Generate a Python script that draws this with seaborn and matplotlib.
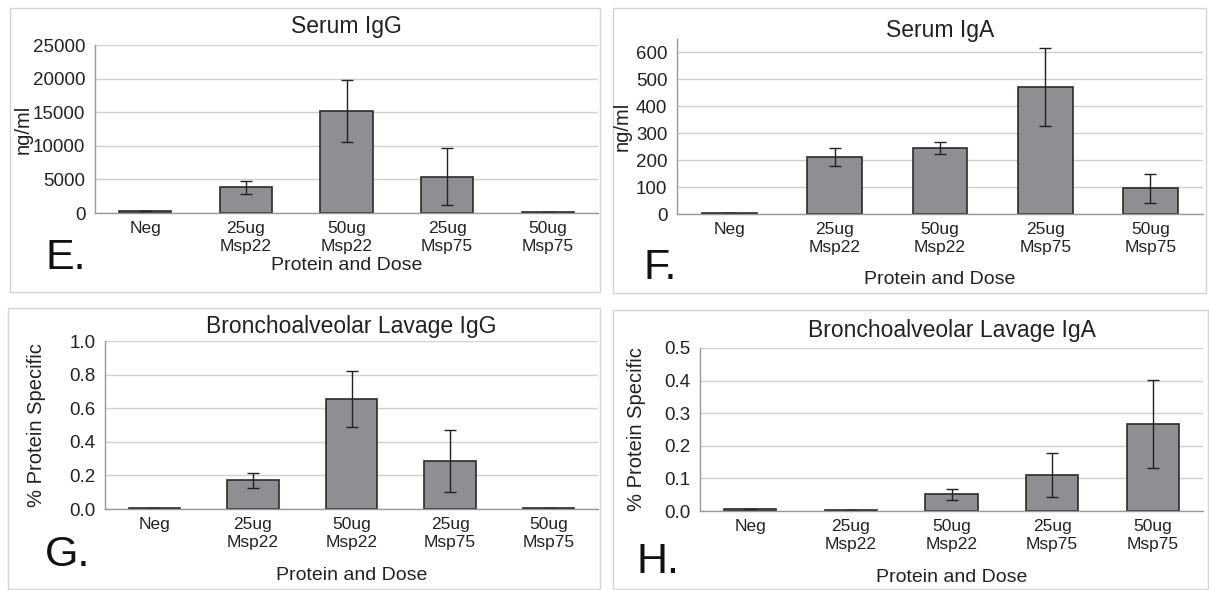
import matplotlib
matplotlib.use("Agg")
import matplotlib.pyplot as plt
import seaborn as sns
import pandas as pd
import numpy as np
from matplotlib.patches import Rectangle

sns.set_theme(style="white")
plt.rcParams['font.family'] = ['Liberation Sans', 'DejaVu Sans']

categories = ["Neg", "25ug\nMsp22", "50ug\nMsp22", "25ug\nMsp75", "50ug\nMsp75"]

serum_igg = [300, 3800, 15200, 5400, 150]
serum_igg_err = [0, 900, 4650, 4200, 0]

serum_iga = [5, 210, 243, 470, 95]
serum_iga_err = [0, 33, 22, 145, 53]

bal_igg = [0.005, 0.17, 0.655, 0.285, 0.005]
bal_igg_err = [0, 0.045, 0.165, 0.185, 0]

bal_iga = [0.007, 0.004, 0.051, 0.11, 0.268]
bal_iga_err = [0, 0, 0.017, 0.068, 0.135]

W, H = 1209, 590
fig = plt.figure(figsize=(W / 100, H / 100), dpi=100)

def fx(px):
    return px / W

def fy(py):
    return 1 - py / H

# panel borders (pixel boxes)
for (x0, y0, x1, y1) in [(10, 8, 600, 292), (613, 8, 1206, 293), (8, 308, 600, 589), (613, 310, 1208, 589)]:
    fig.patches.append(Rectangle((fx(x0), fy(y1)), fx(x1 - x0), (y1 - y0) / H,
                                 transform=fig.transFigure, fill=False,
                                 edgecolor="#d4d4d4", linewidth=1.0))

panels = [
    dict(vals=serum_igg, err=serum_igg_err, title="Serum IgG", ylabel="ng/ml",
         box=(95, 598, 45, 213), ylim=(0, 25000), ticks=np.arange(0, 25001, 5000), fmt="{:.0f}",
         letter="E.", lpos=(66, 258), title_y=27, xlab_y=266, ylab_x=23),
    dict(vals=serum_iga, err=serum_iga_err, title="Serum IgA", ylabel="ng/ml",
         box=(677, 1203, 38.5, 214), ylim=(0, 650), ticks=np.arange(0, 601, 100), fmt="{:.0f}",
         letter="F.", lpos=(660, 268), title_y=31, xlab_y=279, ylab_x=622),
    dict(vals=bal_igg, err=bal_igg_err, title="Bronchoalveolar Lavage IgG", ylabel="% Protein Specific",
         box=(105, 598, 341, 509), ylim=(0, 1.0), ticks=np.arange(0, 1.01, 0.2), fmt="{:.1f}",
         letter="G.", lpos=(68, 555), title_y=327, xlab_y=576, ylab_x=37),
    dict(vals=bal_iga, err=bal_iga_err, title="Bronchoalveolar Lavage IgA", ylabel="% Protein Specific",
         box=(700, 1203, 348, 511), ylim=(0, 0.5), ticks=np.arange(0, 0.501, 0.1), fmt="{:.1f}",
         letter="H.", lpos=(658, 562), title_y=331, xlab_y=577, ylab_x=636),
]

for p in panels:
    x0, x1, ytop, ybot = p["box"]
    ax = fig.add_axes([fx(x0), fy(ybot), fx(x1 - x0), (ybot - ytop) / H])
    df = pd.DataFrame({"cat": categories, "val": p["vals"]})
    sns.barplot(data=df, x="cat", y="val", ax=ax, color="#8e8f93", width=0.52,
                edgecolor="#2b2b2b", linewidth=1.2, saturation=1)
    ax.errorbar(np.arange(len(categories)), p["vals"], yerr=p["err"], fmt="none",
                ecolor="#222222", elinewidth=1.0, capsize=4, capthick=1.0)
    ax.set_ylim(*p["ylim"])
    ax.set_xlim(-0.5, len(categories) - 0.5)
    ax.set_yticks(p["ticks"])
    ax.set_yticklabels([p["fmt"].format(t) for t in p["ticks"]], fontsize=13.5, color="#222222")
    ax.set_xticks(range(len(categories)))
    ax.set_xticklabels(categories, fontsize=12.5, color="#222222", linespacing=1.2)
    ax.tick_params(axis="x", length=0, pad=6)
    ax.tick_params(axis="y", length=4, color="#888888", direction="out", pad=3)
    ax.set_xticks(np.arange(-0.5, len(categories), 1.0), minor=True)
    ax.tick_params(axis="x", which="minor", length=5, color="#888888", direction="out")
    ax.yaxis.grid(True, color="#d0d0d0", linewidth=1.0)
    ax.set_axisbelow(True)
    for s in ["top", "right"]:
        ax.spines[s].set_visible(False)
    for s in ["left", "bottom"]:
        ax.spines[s].set_color("#999999")
        ax.spines[s].set_linewidth(1.0)
    ax.set_xlabel("")
    ax.set_ylabel("")
    fig.text(fx((x0 + x1) / 2), fy(p["title_y"]), p["title"], ha="center", va="center",
             fontsize=16.5, color="#222222")
    fig.text(fx((x0 + x1) / 2), fy(p["xlab_y"]), "Protein and Dose", ha="center", va="center",
             fontsize=14, color="#222222")
    fig.text(fx(p["ylab_x"]), fy((ytop + ybot) / 2), p["ylabel"], ha="center", va="center",
             rotation=90, fontsize=14.5, color="#222222")
    fig.text(fx(p["lpos"][0]), fy(p["lpos"][1]), p["letter"], ha="center", va="center",
             fontsize=31, color="#111111")

fig.savefig("out.png", dpi=100, facecolor="white")
